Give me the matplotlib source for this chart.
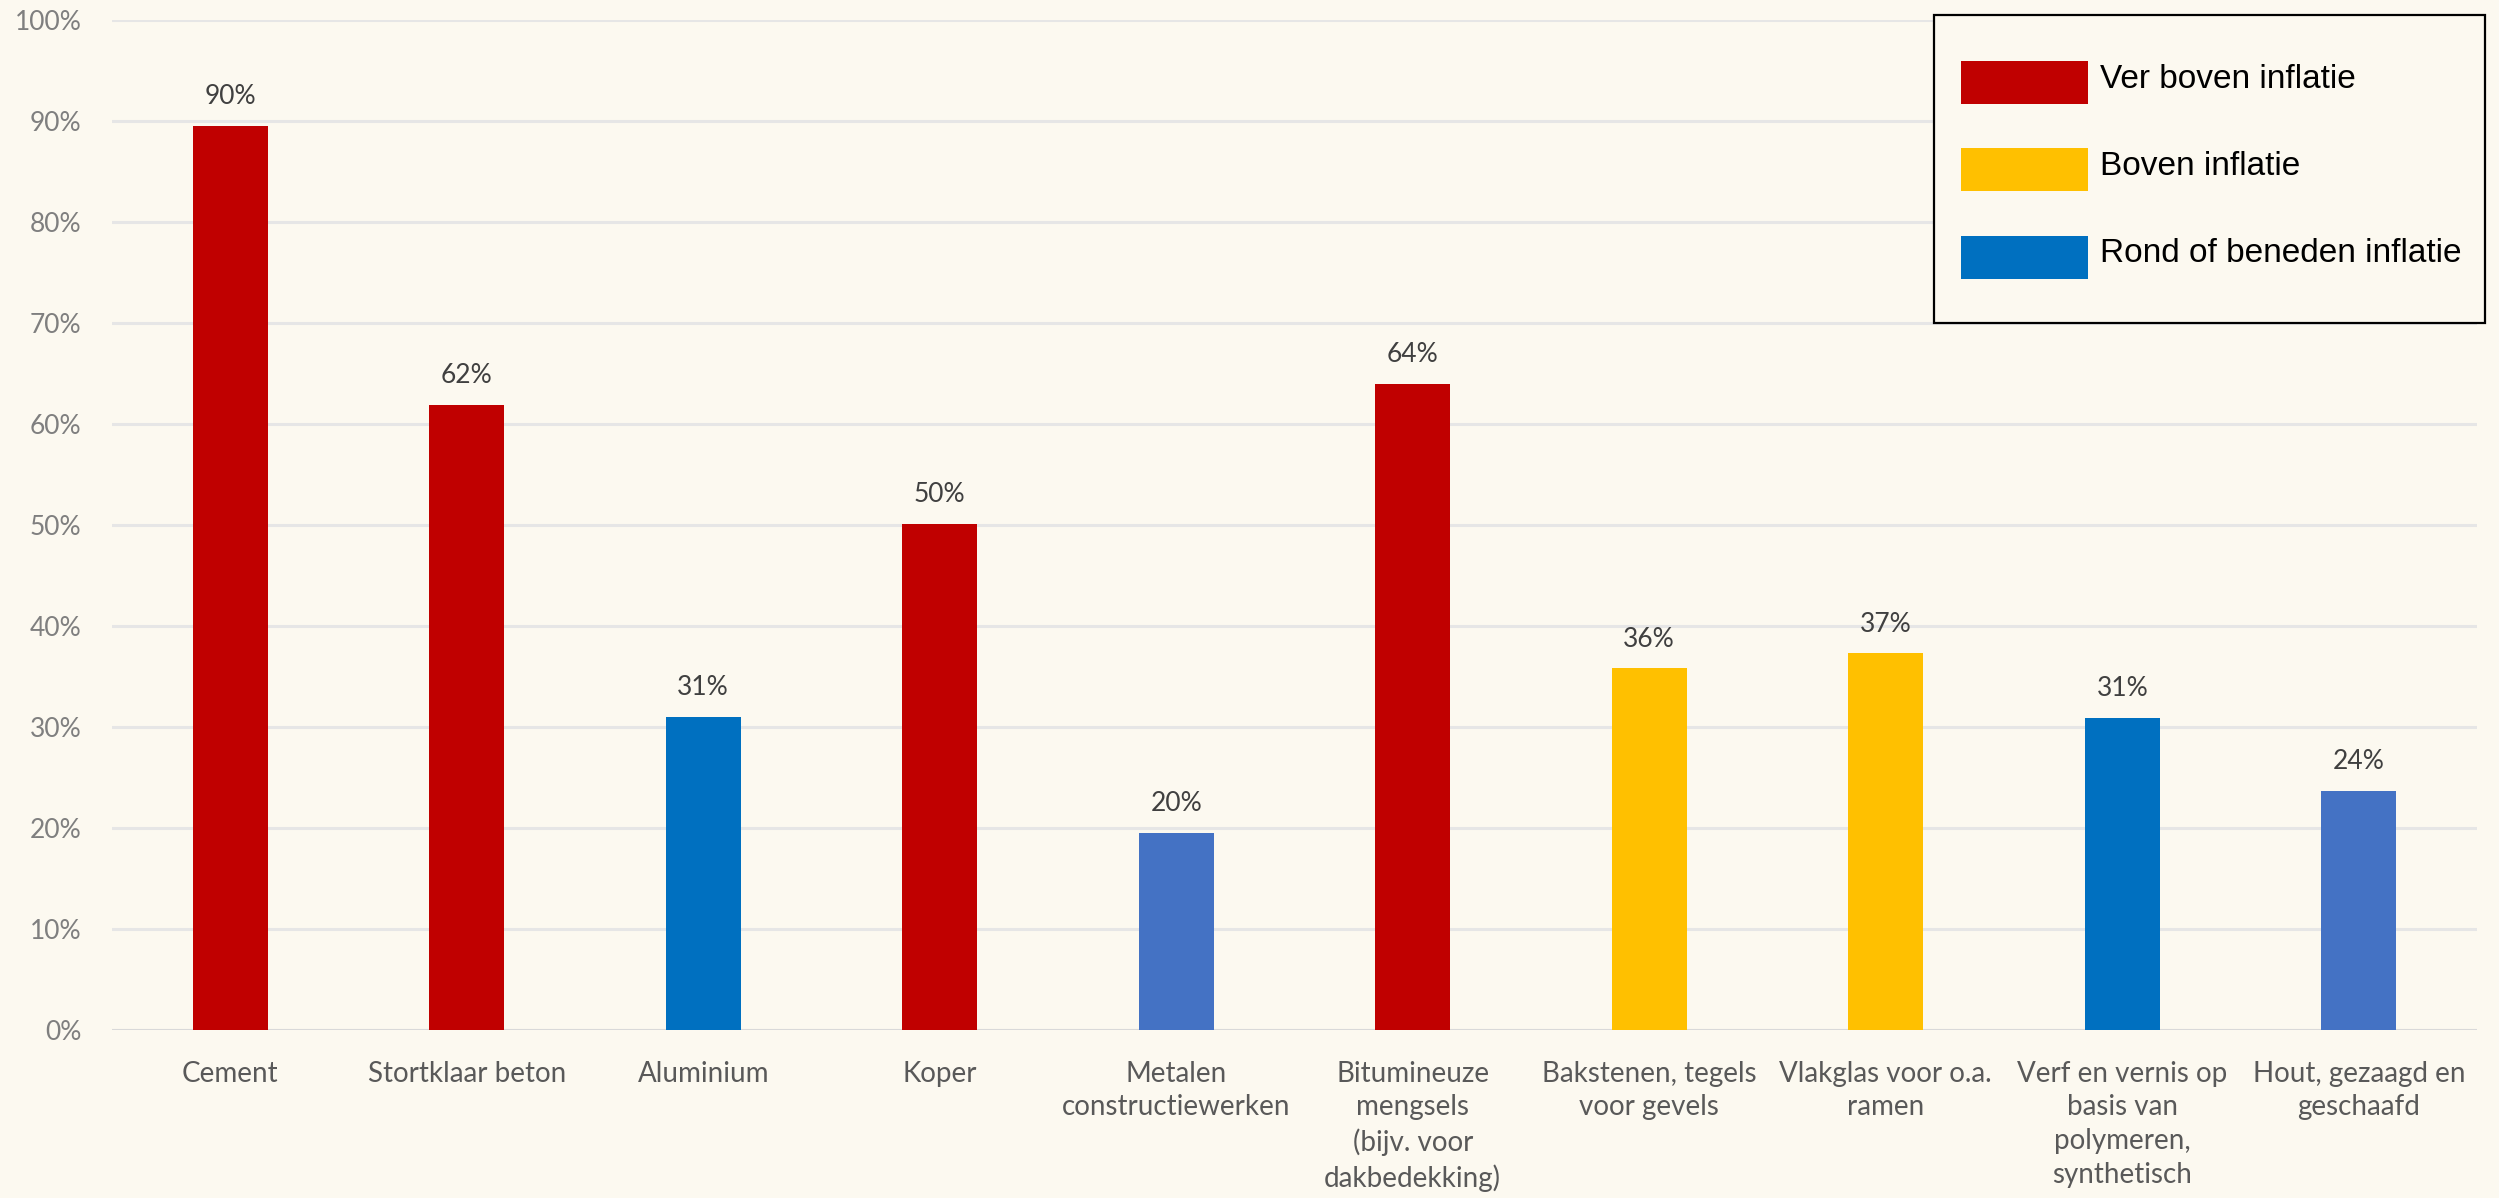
import matplotlib
matplotlib.use("Agg")
import matplotlib.pyplot as plt
from matplotlib.patches import Rectangle

categories = [
    "Cement",
    "Stortklaar beton",
    "Aluminium",
    "Koper",
    "Metalen\nconstructiewerken",
    "Bitumineuze\nmengsels\n(bijv. voor\ndakbedekking)",
    "Bakstenen, tegels\nvoor gevels",
    "Vlakglas voor o.a.\nramen",
    "Verf en vernis op\nbasis van\npolymeren,\nsynthetisch",
    "Hout, gezaagd en\ngeschaafd",
]
values = [0.895, 0.619, 0.310, 0.501, 0.195, 0.640, 0.358, 0.373, 0.309, 0.237]
value_labels = ["90%", "62%", "31%", "50%", "20%", "64%", "36%", "37%", "31%", "24%"]
bar_colors = ["#C00000", "#C00000", "#0070C0", "#C00000", "#4472C4",
              "#C00000", "#FFC000", "#FFC000", "#0070C0", "#4472C4"]
yticks = [0, 0.1, 0.2, 0.3, 0.4, 0.5, 0.6, 0.7, 0.8, 0.9, 1.0]
ytick_labels = ["0%", "10%", "20%", "30%", "40%", "50%", "60%", "70%", "80%", "90%", "100%"]
legend_labels = ["Ver boven inflatie", "Boven inflatie", "Rond of beneden inflatie"]
legend_colors = ["#C00000", "#FFC000", "#0070C0"]

W, H = 2499, 1198
bg = "#FCF9F0"
fig = plt.figure(figsize=(W / 100, H / 100), dpi=100, facecolor=bg)
ax = fig.add_axes([0.0448, 0.1402, 0.9464, 0.8431])
ax.set_facecolor(bg)

x = list(range(len(categories)))
bars = ax.bar(x, values, width=0.316, color=bar_colors, zorder=3)

ax.set_xlim(-0.5, len(categories) - 0.5)
ax.set_ylim(0, 1.0)
ax.set_yticks(yticks)
ax.set_yticklabels(ytick_labels, fontfamily="Lato", fontsize=19, color="#7F7F7F")
ax.set_xticks(x)
ax.set_xticklabels(categories, fontfamily="Lato", fontsize=20, color="#595959",
                   linespacing=1.37, va="top")
ax.tick_params(axis="y", length=0, pad=22)
ax.tick_params(axis="x", length=0, pad=22)
ax.grid(axis="y", color="#E6E6E6", linewidth=2.2, zorder=0)
ax.set_axisbelow(True)
for s in ["top", "right", "left", "bottom"]:
    ax.spines[s].set_visible(False)
ax.axhline(0, color="#D9D9D9", linewidth=2.2, zorder=2)

for b, lab in zip(bars, value_labels):
    ax.annotate(lab, (b.get_x() + b.get_width() / 2, b.get_height()),
                xytext=(0, 12), textcoords="offset points", ha="center", va="bottom",
                fontfamily="Lato", fontsize=19, color="#404040")

# legend box (drawn in figure pixel coordinates, y measured from top)
def fx(px):
    return px / W

def fy(py):
    return 1 - py / H

frame = Rectangle((fx(1934), fy(323)), fx(2485) - fx(1934), fy(15) - fy(323),
                  transform=fig.transFigure, facecolor=bg, edgecolor="#000000",
                  linewidth=1.6, zorder=10)
fig.add_artist(frame)
row_centers = [82, 169.5, 257]
for yc, lab, col in zip(row_centers, legend_labels, legend_colors):
    fig.add_artist(Rectangle((fx(1961), fy(yc + 21.5)), fx(2088) - fx(1961), 43 / H,
                             transform=fig.transFigure, facecolor=col,
                             edgecolor="none", zorder=11))
    fig.text(fx(2100), fy(yc - 3), lab, ha="left", va="center",
             fontfamily="Liberation Sans", fontsize=24, color="#000000", zorder=11)

fig.savefig("out.png", dpi=100, facecolor=bg)
